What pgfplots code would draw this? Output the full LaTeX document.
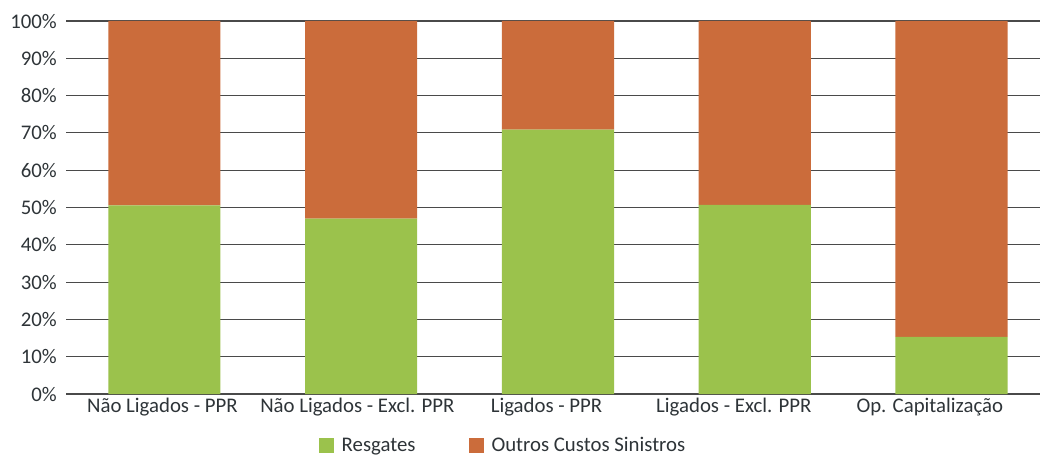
\documentclass[border=0pt]{standalone}
\usepackage{pgfplots}
\pgfplotsset{compat=1.18}
\usepackage{fontspec}
\setmainfont{Carlito}
\usetikzlibrary{calc}
\definecolor{cgreen}{HTML}{9BC24C}
\definecolor{corange}{HTML}{CB6C3B}
\definecolor{ctext}{HTML}{2E3438}
\definecolor{cgrid}{HTML}{4A4A4A}
\begin{document}
\begin{tikzpicture}
\begin{axis}[
  scale only axis, width=974bp, height=373bp,
  ybar stacked, bar width=0.57,
  xmin=-0.5, xmax=4.45, ymin=0, ymax=100,
  xtick={-0.01,0.981,1.942,2.894,3.89},
  xticklabels={Não Ligados - PPR, Não Ligados - Excl. PPR, Ligados - PPR, Ligados - Excl. PPR, Op. Capitalização},
  ytick={0,10,...,100},
  yticklabel={\pgfmathprintnumber{\tick}\%},
  /pgf/number format/assume math mode=true,
  ymajorgrids, grid style={cgrid, line width=1.1bp},
  axis x line=bottom, axis y line=left,
  y axis line style={draw=none},
  x axis line style={cgrid, line width=1.3bp, -},
  major tick length=0pt,
  tick label style={font=\fontsize{20.8bp}{25bp}\selectfont, text=ctext, inner sep=0pt},
  yticklabel shift=9bp,
  xticklabel shift=4bp,
  legend style={at={(0.4487,-0.137)}, anchor=center, draw=none, legend columns=2,
    font=\fontsize{20.8bp}{25bp}\selectfont, text=ctext,
    /tikz/every even column/.append style={column sep=51bp}},
]
\addplot[fill=cgreen, draw=none, legend image code/.code={\fill[cgreen] (0bp,-7.5bp) rectangle (15bp,7.5bp); \path (21bp,0bp);}] coordinates {(0,50.6) (1,47.0) (2,70.9) (3,50.7) (4,15.3)};
\addlegendentry{Resgates}
\addplot[fill=corange, draw=none, legend image code/.code={\fill[corange] (0bp,-7.5bp) rectangle (15bp,7.5bp); \path (21bp,0bp);}] coordinates {(0,49.4) (1,53.0) (2,29.1) (3,49.3) (4,84.7)};
\addlegendentry{Outros Custos Sinistros}
\coordinate (sw) at (rel axis cs:0,0);
\coordinate (ne) at (rel axis cs:1,1);
\end{axis}
\pgfresetboundingbox
\path[use as bounding box] ($(sw)+(-66bp,-62bp)$) rectangle ($(ne)+(0bp,21bp)$);
\end{tikzpicture}
\end{document}
